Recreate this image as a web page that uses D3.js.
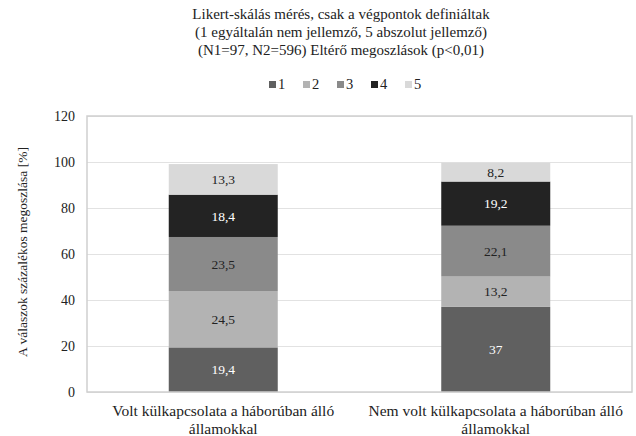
<!DOCTYPE html>
<html lang="hu">
<head>
<meta charset="UTF-8">
<title>Likert-skálás mérés</title>
<script src="https://d3js.org/d3.v7.min.js"></script>
<style>
    body { margin: 0; padding: 0; background: #fff; }
    svg { display: block; }
    .grid line { stroke: #e2e2e2; stroke-width: 1; }
</style>
</head>
<body>
<svg id="chart" width="636" height="436"></svg>
<script>
    // adatok
    const categories = [
        ["Volt külkapcsolata a háborúban álló", "államokkal"],
        ["Nem volt külkapcsolata a háborúban álló", "államokkal"]
    ];
    const seriesNames = ["1", "2", "3", "4", "5"];
    const s1 = [19.4, 37];
    const s2 = [24.5, 13.2];
    const s3 = [23.5, 22.1];
    const s4 = [18.4, 19.2];
    const s5 = [13.3, 8.2];
    const labels1 = ["19,4", "37"];
    const labels2 = ["24,5", "13,2"];
    const labels3 = ["23,5", "22,1"];
    const labels4 = ["18,4", "19,2"];
    const labels5 = ["13,3", "8,2"];
    const yTicks = [0, 20, 40, 60, 80, 100, 120];
    const titleLines = [
        "Likert-skálás mérés, csak a végpontok definiáltak",
        "(1 egyáltalán nem jellemző, 5 abszolut jellemző)",
        "(N1=97, N2=596) Eltérő megoszlások (p<0,01)"
    ];
    const yTitle = "A válaszok százalékos megoszlása [%]";

    const colors = ["#606060", "#b3b3b3", "#8a8a8a", "#232323", "#d9d9d9"];
    const textColors = ["#fff", "#222", "#222", "#fff", "#222"];
    const FONT = "'Liberation Serif', 'Times New Roman', serif";

    const svg = d3.select("#chart");
    const margin = { top: 116, right: 4, bottom: 44, left: 87 };
    const width = +svg.attr("width") - margin.left - margin.right;
    const height = +svg.attr("height") - margin.top - margin.bottom;
    const g = svg.append("g").attr("transform", `translate(${margin.left},${margin.top})`);

    const x = d3.scaleBand()
        .domain(d3.range(categories.length))
        .range([0, width])
        .paddingInner(0.6)
        .paddingOuter(0.3);

    const y = d3.scaleLinear().domain([0, 120]).range([height, 0]);

    // rácsvonalak
    g.append("g")
        .attr("class", "grid")
        .call(d3.axisLeft(y).tickValues(yTicks).tickSize(-width).tickFormat(""))
        .call(a => a.select(".domain").remove());

    // tengelyfeliratok
    const yAxis = g.append("g")
        .call(d3.axisLeft(y).tickValues(yTicks).tickSize(0).tickPadding(12));
    yAxis.select(".domain").remove();
    yAxis.selectAll("text")
        .style("font-family", FONT)
        .style("font-size", "14px")
        .attr("fill", "#222");

    // halmozott oszlopok
    const table = categories.map((c, i) => ({
        i: i, "1": s1[i], "2": s2[i], "3": s3[i], "4": s4[i], "5": s5[i]
    }));
    const allLabels = [labels1, labels2, labels3, labels4, labels5];
    const stacked = d3.stack().keys(seriesNames)(table);

    const layers = g.selectAll(".layer")
        .data(stacked)
        .enter().append("g")
        .attr("class", "layer");

    layers.selectAll("rect")
        .data(d => d)
        .enter().append("rect")
        .attr("x", d => x(d.data.i))
        .attr("y", d => y(d[1]))
        .attr("width", x.bandwidth())
        .attr("height", d => y(d[0]) - y(d[1]))
        .attr("fill", function () { return colors[d3.select(this.parentNode).datum().index]; });

    layers.selectAll("text")
        .data((d, k) => d.map((v, i) => ({ v: v, k: k, i: i })))
        .enter().append("text")
        .attr("x", d => x(d.i) + x.bandwidth() / 2)
        .attr("y", d => (y(d.v[0]) + y(d.v[1])) / 2)
        .attr("dy", "0.35em")
        .attr("text-anchor", "middle")
        .style("font-family", FONT)
        .style("font-size", "13.5px")
        .attr("fill", d => textColors[d.k])
        .text(d => allLabels[d.k][d.i]);

    // keret
    g.append("rect")
        .attr("x", 0).attr("y", 0)
        .attr("width", width).attr("height", height)
        .attr("fill", "none")
        .attr("stroke", "#cfcfcf")
        .attr("stroke-width", 1.5);

    // kategória feliratok
    categories.forEach((lines, i) => {
        const t = g.append("text")
            .attr("x", x(i) + x.bandwidth() / 2)
            .attr("y", height + 24)
            .attr("text-anchor", "middle")
            .style("font-family", FONT)
            .style("font-size", "15.5px")
            .attr("fill", "#222");
        lines.forEach((l, j) => {
            t.append("tspan")
                .attr("x", x(i) + x.bandwidth() / 2)
                .attr("dy", j === 0 ? 0 : 17.5)
                .text(l);
        });
    });

    // y tengely címe
    svg.append("text")
        .attr("transform", `translate(27,${margin.top + height / 2 - 2}) rotate(-90)`)
        .attr("text-anchor", "middle")
        .style("font-family", FONT)
        .style("font-size", "13.5px")
        .attr("fill", "#222")
        .text(yTitle);

    // cím
    const cx = 341;
    titleLines.forEach((l, j) => {
        svg.append("text")
            .attr("x", cx)
            .attr("y", 19 + j * 18)
            .attr("text-anchor", "middle")
            .style("font-family", FONT)
            .style("font-size", "15px")
            .attr("fill", "#222")
            .text(l);
    });

    // jelmagyarázat
    const legend = svg.append("g").attr("transform", "translate(269,81)");
    seriesNames.forEach((n, k) => {
        const item = legend.append("g").attr("transform", `translate(${k * 34},0)`);
        item.append("rect").attr("width", 7).attr("height", 7).attr("fill", colors[k]);
        item.append("text")
            .attr("x", 9).attr("y", 7.5)
            .style("font-family", FONT)
            .style("font-size", "14.5px")
            .attr("fill", "#222")
            .text(n);
    });
</script>
</body>
</html>
